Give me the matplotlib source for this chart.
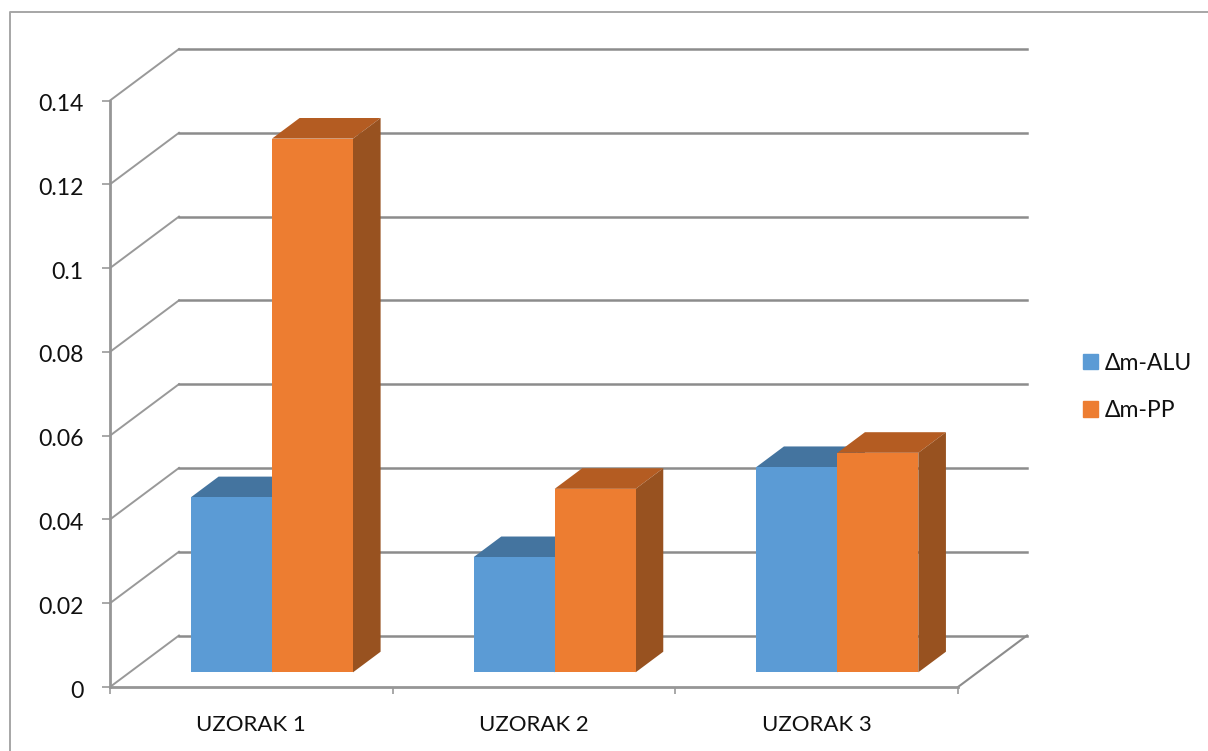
import matplotlib
matplotlib.use('Agg')
import matplotlib.pyplot as plt
import numpy as np
from matplotlib.lines import Line2D
from matplotlib.patches import Patch, Polygon
from matplotlib.transforms import ScaledTranslation

plt.rcParams['font.family'] = ['Lato', 'DejaVu Sans']

# values
uzorci = ['UZORAK 1', 'UZORAK 2', 'UZORAK 3']
dm_alu = [0.0418, 0.0275, 0.049]
dm_pp = [0.1274, 0.0438, 0.0524]
y_ticks = [0, 0.02, 0.04, 0.06, 0.08, 0.1, 0.12, 0.14]
y_labels = ['0', '0.02', '0.04', '0.06', '0.08', '0.1', '0.12', '0.14']

W, H = 1208, 751
fig = plt.figure(figsize=(W / 100, H / 100), dpi=100)
ax = fig.add_axes([110 / W, (H - 687) / H, (958 - 110) / W, 586.5 / H])
ax.set_xlim(0, 3)
ax.set_ylim(0, 0.14)
ax.patch.set_visible(False)

# oblique 3D look: shift of the back wall in data units
DX = 69 / (848 / 3)
DY = 51.5 / (586.5 / 0.14)
BAR_W = 81 / (848 / 3)
D_FRONT = 0.285  # where the bars stand in the depth
D_SIZE = 0.40    # how deep a bar is

GRID = '#8c8c8c'
for v in y_ticks:
    ax.plot([0, DX], [v, v + DY], color='#999999', lw=1.4, clip_on=False, zorder=1)
    ax.plot([DX, 3 + DX], [v + DY, v + DY], color=GRID, lw=1.8, clip_on=False, zorder=1)
ax.plot([3, 3 + DX], [0, DY], color=GRID, lw=1.5, clip_on=False, zorder=1)


def bar3d(x, val, front, top, side):
    x0 = x + D_FRONT * DX
    y0 = D_FRONT * DY
    dx = D_SIZE * DX
    dy = D_SIZE * DY
    ax.bar(x0, val, BAR_W, bottom=y0, align='edge', color=front, clip_on=False, zorder=3)
    ax.add_patch(Polygon([(x0, y0 + val), (x0 + BAR_W, y0 + val),
                          (x0 + BAR_W + dx, y0 + val + dy), (x0 + dx, y0 + val + dy)],
                         closed=True, fc=top, ec='none', clip_on=False, zorder=2))
    ax.add_patch(Polygon([(x0 + BAR_W, y0), (x0 + BAR_W + dx, y0 + dy),
                          (x0 + BAR_W + dx, y0 + val + dy), (x0 + BAR_W, y0 + val)],
                         closed=True, fc=side, ec='none', clip_on=False, zorder=2))


centers = np.arange(len(uzorci)) + 0.5
start = 80 / (848 / 3)
for i, c in enumerate(centers):
    left = c - start
    bar3d(left, dm_alu[i], '#5b9bd5', '#44749f', '#3f6f9c')
    bar3d(left + BAR_W, dm_pp[i], '#ed7d31', '#b45c22', '#985220')

for s in ['top', 'right']:
    ax.spines[s].set_visible(False)
for s in ['left', 'bottom']:
    ax.spines[s].set_color('#969696')
    ax.spines[s].set_linewidth(2)

ax.set_yticks(y_ticks)
ax.set_yticklabels(y_labels, fontsize=16.6, color='#111111')
ax.tick_params(axis='y', length=6, width=1.2, color='#999999', pad=13)
down = ScaledTranslation(0, -2 / 100, fig.dpi_scale_trans)
for lab in ax.get_yticklabels():
    lab.set_transform(lab.get_transform() + down)
ax.set_xticks([0, 1, 2, 3])
ax.set_xticklabels([])
ax.tick_params(axis='x', which='major', length=5, width=1.2, color='#999999')
ax.set_xticks(centers, minor=True)
ax.set_xticklabels(uzorci, minor=True, fontsize=16, color='#111111')
ax.tick_params(axis='x', which='minor', length=0, pad=20)

handles = [Patch(color='#5b9bd5', label='Δm-ALU'), Patch(color='#ed7d31', label='Δm-PP')]
fig.legend(handles=handles, loc='center left', bbox_to_anchor=(1062 / W, 1 - 387 / H),
           frameon=False, fontsize=16.6, handlelength=0.65, handleheight=0.65,
           handletextpad=0.32, labelspacing=1.15, labelcolor='#111111')

# outer chart border, cut off on the right and at the bottom
fig.add_artist(Line2D([10 / W, 10 / W, 1], [0, 1 - 12 / H, 1 - 12 / H], color='#a6a6a6', lw=1.4))

fig.savefig('out.png', dpi=100)
